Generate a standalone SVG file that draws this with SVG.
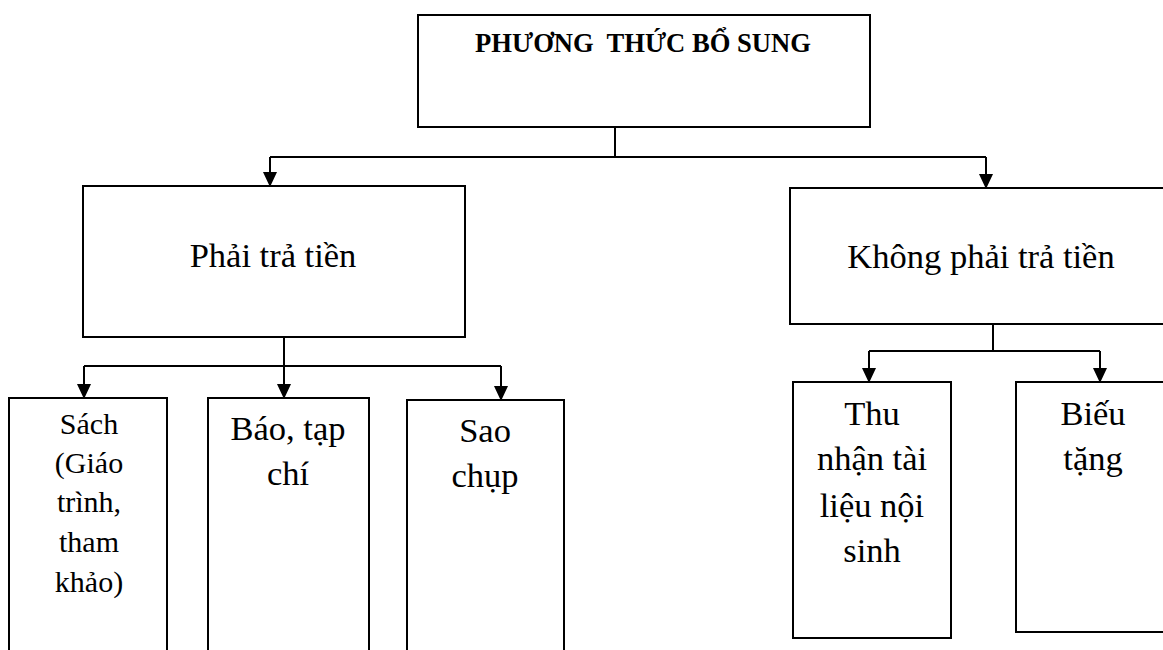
<svg xmlns="http://www.w3.org/2000/svg" width="1163" height="650" viewBox="0 0 1163 650">
<style>
.box{fill:#fff;stroke:#000;stroke-width:2}
.t{font-family:"Liberation Serif","Times New Roman",serif;font-size:34.5px;fill:#000;text-anchor:middle}
.s{font-size:30px}
.h{font-family:"Liberation Serif","Times New Roman",serif;font-size:26.6px;font-weight:bold;fill:#000;text-anchor:middle;white-space:pre}
.c{fill:none;stroke:#000;stroke-width:2}
</style>
<defs>
<marker id="ah" markerWidth="16" markerHeight="16" refX="14" refY="8" orient="auto" markerUnits="userSpaceOnUse"><path d="M0,1 L15,8 L0,15 z" fill="#000"/></marker>
</defs>
<rect width="1163" height="650" fill="#fff"/>
<g id="connectors">
<path class="c" d="M615,127 V157"/>
<path class="c" d="M270,157 H986"/>
<path class="c" d="M270,157 V186" marker-end="url(#ah)"/>
<path class="c" d="M986,157 V188" marker-end="url(#ah)"/>
<path class="c" d="M284,337 V366"/>
<path class="c" d="M84,366 H501"/>
<path class="c" d="M84,366 V398" marker-end="url(#ah)"/>
<path class="c" d="M284,366 V398" marker-end="url(#ah)"/>
<path class="c" d="M501,366 V400" marker-end="url(#ah)"/>
<path class="c" d="M993,324 V351"/>
<path class="c" d="M869,351 H1100"/>
<path class="c" d="M869,351 V382" marker-end="url(#ah)"/>
<path class="c" d="M1100,351 V382" marker-end="url(#ah)"/>
</g>
<g id="root">
<rect class="box" x="418" y="15" width="452" height="112"/>
<text class="h" x="643" y="52" xml:space="preserve">PHƯƠNG  THỨC BỔ SUNG</text>
</g>
<g id="phai">
<rect class="box" x="83" y="186" width="382" height="151"/>
<text class="t" x="273" y="267">Phải trả tiền</text>
</g>
<g id="khong">
<rect class="box" x="790" y="188" width="390" height="136"/>
<text class="t" x="981" y="268">Không phải trả tiền</text>
</g>
<g id="sach">
<rect class="box" x="9" y="398" width="158" height="262"/>
<text class="t s" x="89" y="434">Sách</text>
<text class="t s" x="89" y="473">(Giáo</text>
<text class="t s" x="89" y="512">trình,</text>
<text class="t s" x="89" y="552">tham</text>
<text class="t s" x="89" y="592">khảo)</text>
</g>
<g id="bao">
<rect class="box" x="208" y="398" width="161" height="262"/>
<text class="t" x="288" y="440">Báo, tạp</text>
<text class="t" x="288" y="485">chí</text>
</g>
<g id="sao">
<rect class="box" x="407" y="400" width="157" height="262"/>
<text class="t" x="485" y="442">Sao</text>
<text class="t" x="485" y="487">chụp</text>
</g>
<g id="thu">
<rect class="box" x="793" y="382" width="158" height="256"/>
<text class="t" x="872" y="425">Thu</text>
<text class="t" x="872" y="470">nhận tài</text>
<text class="t" x="872" y="517">liệu nội</text>
<text class="t" x="872" y="562">sinh</text>
</g>
<g id="bieu">
<rect class="box" x="1016" y="382" width="160" height="250"/>
<text class="t" x="1093" y="425">Biếu</text>
<text class="t" x="1093" y="470">tặng</text>
</g>
</svg>
